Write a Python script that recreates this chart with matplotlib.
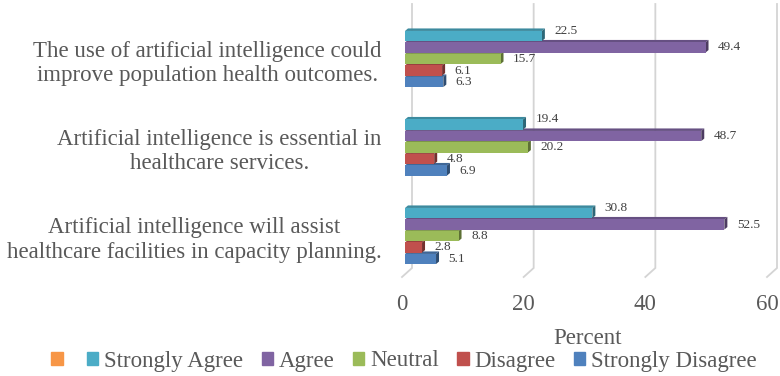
import matplotlib

matplotlib.use("Agg")
import matplotlib.pyplot as plt
import numpy as np
from matplotlib.colors import to_rgb
from matplotlib.patches import Patch, Polygon
from matplotlib.transforms import ScaledTranslation

# --- data -------------------------------------------------------------
categories = [
    "The use of artificial intelligence could\nimprove population health outcomes.",
    "Artificial intelligence is essential in\nhealthcare services.",
    "Artificial intelligence will assist\nhealthcare facilities in capacity planning.",
]
series_names = ["Strongly Agree", "Agree", "Neutral", "Disagree", "Strongly Disagree"]
strongly_agree = [22.5, 19.4, 30.8]
agree = [49.4, 48.7, 52.5]
neutral = [15.7, 20.2, 8.8]
disagree = [6.1, 4.8, 2.8]
strongly_disagree = [6.3, 6.9, 5.1]
x_ticks = [0, 20, 40, 60]

values = [strongly_agree, agree, neutral, disagree, strongly_disagree]

# --- style ------------------------------------------------------------
COLORS = ["#4BACC6", "#8064A2", "#9BBB59", "#C0504D", "#4F81BD"]
EMPTY_COLOR = "#F79646"
TEXT = "#595959"
GRID = "#d4d4d4"
W, H, DPI = 780, 376, 100

plt.rcParams["font.family"] = ["Liberation Serif", "DejaVu Serif"]
plt.rcParams["text.color"] = TEXT

# layout in pixels
LEFT, RIGHT, TOP, BOTTOM = 405, 770, 4, 277
GROUP_PX = 88.5          # distance between category centres
FIRST_PX = 59            # first category centre
STEP_PX = 11.5           # distance between series bars
PPU = (RIGHT - LEFT) / 60.0
DX_PX, DY_PX = 3.0, 2.5  # 3D depth of each bar


def shade(c, f):
    r, g, b = to_rgb(c)
    return (r * f, g * f, b * f)


fig = plt.figure(figsize=(W / DPI, H / DPI), dpi=DPI)
ax = fig.add_axes([LEFT / W, 1 - BOTTOM / H, (RIGHT - LEFT) / W, (BOTTOM - TOP) / H])
ax.set_xlim(0, 60)
ax.set_ylim((BOTTOM - FIRST_PX) / GROUP_PX, (TOP - FIRST_PX) / GROUP_PX)
for s in ax.spines.values():
    s.set_visible(False)

step = STEP_PX / GROUP_PX
bar_h = step * 0.88
dx = DX_PX / PPU
dy = DY_PX / GROUP_PX
y_top = (TOP - FIRST_PX) / GROUP_PX
y_floor_back = (268 - FIRST_PX) / GROUP_PX
y_floor_front = (BOTTOM - FIRST_PX) / GROUP_PX

# back wall gridlines + floor diagonals
for t in x_ticks:
    xb = t + 7 / PPU
    xf = t - 3 / PPU
    ax.plot([xb, xb, xf], [y_top, y_floor_back, y_floor_front],
            color=GRID, lw=1.3, zorder=0, clip_on=False, solid_joinstyle="miter")

pos = np.arange(len(categories))
label_dy = [-5, 0, 0, 0, 0]

# draw from the bottom series up so upper bars hide lower top faces
for j in reversed(range(len(series_names))):
    ys = pos + (j - 2) * step
    col = COLORS[j]
    z = 2 + (len(series_names) - j)
    ax.barh(ys, values[j], height=bar_h, color=col, zorder=z + 0.2)
    for y, v in zip(ys, values[j]):
        top = y - bar_h / 2
        bot = y + bar_h / 2
        ax.add_patch(Polygon([(0, top), (v, top), (v + dx, top - dy), (dx, top - dy)],
                             closed=True, facecolor=shade(col, 0.8), edgecolor="none", zorder=z))
        ax.add_patch(Polygon([(v, top), (v, bot), (v + dx, bot - dy), (v + dx, top - dy)],
                             closed=True, facecolor=shade(col, 0.6), edgecolor="none", zorder=z))
        ax.annotate(f"{v:.1f}", (v, y), xytext=(9, -label_dy[j] * 0.72),
                    textcoords="offset points", ha="left", va="center",
                    fontsize=9.5, color="#404040", zorder=20)

# axes ticks
ax.set_yticks(pos)
ax.set_yticklabels(categories, fontsize=16.5, color=TEXT)
up = ScaledTranslation(0, 3 / DPI, fig.dpi_scale_trans)
for lbl in ax.get_yticklabels():
    lbl.set_multialignment("center")
    lbl.set_transform(lbl.get_transform() + up)
ax.tick_params(axis="y", length=0, pad=17)
ax.set_xticks(x_ticks)
ax.set_xticklabels([str(t) for t in x_ticks], fontsize=16.5, color=TEXT)
ax.tick_params(axis="x", length=0, pad=12.5)
off = ScaledTranslation(-3 / DPI, 0, fig.dpi_scale_trans)
for lbl in ax.get_xticklabels():
    lbl.set_transform(lbl.get_transform() + off)
ax.set_xlabel("Percent", fontsize=16.5, color=TEXT, labelpad=9)

# legend (first entry is an unlabeled orange series)
handles = [Patch(facecolor=EMPTY_COLOR, edgecolor=EMPTY_COLOR)] + [
    Patch(facecolor=c, edgecolor=c) for c in COLORS
]
labels = [""] + series_names
fig.legend(handles, labels, loc="center", bbox_to_anchor=(404 / W, 1 - 361 / H),
           ncol=6, frameon=False, fontsize=16.5, handlelength=0.5, handleheight=0.5,
           handletextpad=0.25, columnspacing=0.8, borderpad=0, borderaxespad=0)

fig.savefig("out.png", dpi=DPI)
